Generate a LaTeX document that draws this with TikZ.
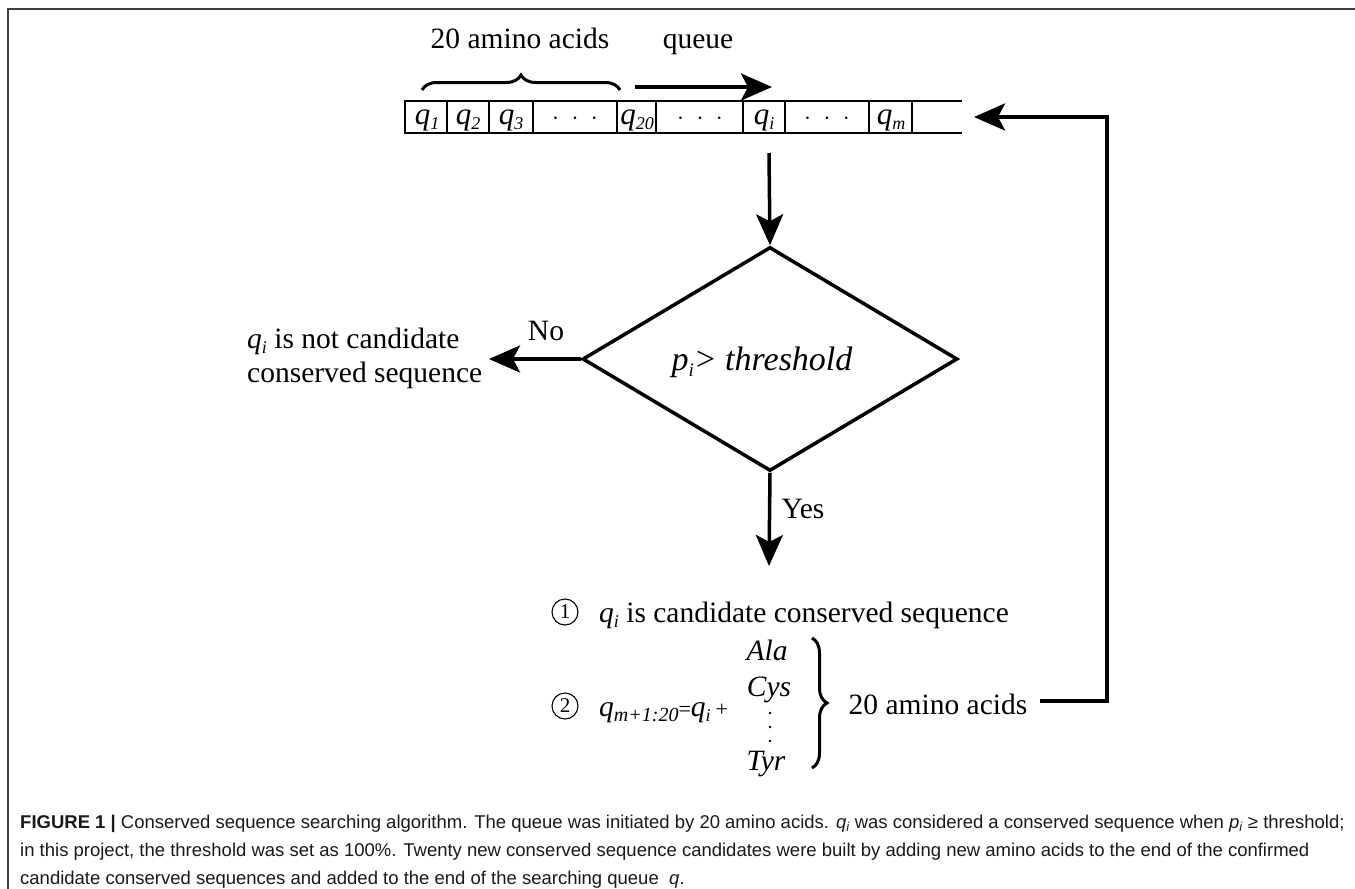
\documentclass[tikz,border=0pt]{standalone}
\usepackage{fontspec}
\usepackage{graphicx}
\setmainfont{Liberation Serif}
\newfontfamily\capfont{Liberation Sans}
\usetikzlibrary{shapes.geometric,arrows.meta,decorations.pathreplacing}
\newcommand{\diagsize}{\fontsize{29.5}{34}\selectfont}
\newcommand{\qq}[1]{\textit{q}{\fontsize{18}{18}\selectfont\raisebox{-5pt}{\textit{#1}}}}
\begin{document}
\begin{tikzpicture}[x=1pt,y=-1pt,
  lbl/.style={inner sep=0pt, font=\diagsize, anchor=base},
  cellt/.style={inner sep=0pt, font=\fontsize{31}{34}\selectfont, anchor=base},
  numc/.style={draw, circle, line width=1.1pt, inner sep=0pt, minimum size=26pt, font=\fontsize{21}{21}\selectfont},
  bigarrow/.style={line width=3.5pt, -{Stealth[length=31pt,width=27pt,inset=7pt]}},
  strip/.style={line width=2.8pt},
  dec/.style={draw, line width=3.5pt, diamond, inner sep=0pt, minimum width=375pt, minimum height=224pt},
  bracestyle/.style={line width=3pt, decorate, decoration={brace, amplitude=15pt}},
  frame/.style={line width=1.5pt, black!75},
  captxt/.style={inner sep=0pt, anchor=base west, font=\capfont\fontsize{18.5}{20}\selectfont, text=black!90}
]
\useasboundingbox (0,0) rectangle (1355,889);
\draw[frame] (8,889) -- (8,9) -- (1355,9);

% top labels
\node[lbl] (aa) at (520,48) {20 amino acids};
\node[lbl] (qu) at (698,48) {queue};
\coordinate (br1) at (422,90);
\coordinate (br2) at (620,90);
\draw[bracestyle] (br1) -- (br2);
\coordinate (qa1) at (635,87);
\coordinate (qa2) at (772,87);
\draw[bigarrow] (qa1) -- (qa2);

% queue strip
\coordinate (sl) at (405,101);
\coordinate (sr) at (962,101);
\coordinate (bl) at (405,133);
\coordinate (brr) at (962,133);
\draw[strip] (sr) -- (sl) -- (bl) -- (brr);
\foreach \x in {447,489,533,617,656,743,785,869,912}{
  \draw[strip] (\x,101) -- (\x,133);
}
\node[cellt] (c1) at (427,124) {\qq{1}};
\node[cellt] (c2) at (468,124) {\qq{2}};
\node[cellt] (c3) at (511,124) {\qq{3}};
\node[cellt] (c4) at (575,124) {$\cdot\;\cdot\;\cdot$};
\node[cellt] (c5) at (637,124) {\qq{20}};
\node[cellt] (c6) at (700,124) {$\cdot\;\cdot\;\cdot$};
\node[cellt] (c7) at (764,124) {\qq{i}};
\node[cellt] (c8) at (827,124) {$\cdot\;\cdot\;\cdot$};
\node[cellt] (c9) at (891,124) {\qq{m}};

% decision
\node[dec] (dia) at (770,359) {};
\node[lbl, font=\fontsize{34}{34}\selectfont] (cond) at (762,370) {\textit{p}{\fontsize{19}{19}\selectfont\raisebox{-6pt}{\textit{i}}}\textit{> threshold}};
\coordinate (sb) at (769,153);
\draw[bigarrow] (sb) -- (dia.north);

\node[lbl, anchor=base west, align=left] (notc) at (247,382) {\qq{i} is not candidate\\conserved sequence};
\coordinate (notin) at (489,359);
\draw[bigarrow] (dia.west) -- (notin);
\node[lbl] (no) at (546,340) {No};

\coordinate (yesend) at (769,566);
\draw[bigarrow] (dia.south) -- (yesend);
\node[lbl] (yes) at (803,518) {Yes};

% results
\node[numc] (n1) at (565,612) {1};
\node[numc] (n2) at (565,706) {2};
\node[lbl, anchor=base west] (s1) at (599,622) {\qq{i} is candidate conserved sequence};
\node[lbl, anchor=base west] (s2) at (599,716) {\textit{q}{\fontsize{20}{20}\selectfont\raisebox{-5pt}{\textit{m+1:20}}}{\fontsize{22}{22}\selectfont =}\qq{i}\,{\fontsize{22}{22}\selectfont +}};
\node[lbl] (ala) at (767,660) {\textit{Ala}};
\node[lbl] (cys) at (769,696) {\textit{Cys}};
\foreach \y in {713,727,741}{ \fill (770,\y) circle (1.4pt); }
\node[lbl] (tyr) at (766,770) {\textit{Tyr}};
\coordinate (rb1) at (812,638);
\coordinate (rb2) at (812,768);
\draw[bracestyle] (rb1) -- (rb2);
\node[lbl] (aa2) at (938,714) {20 amino acids};

% return loop
\coordinate (ls) at (1040,701);
\coordinate (lc) at (1107,701);
\coordinate (ret) at (974,117);
\draw[bigarrow] (ls) -- (lc) |- (ret);

% caption
\node[captxt] (cap1) at (20,828) {\textbf{FIGURE 1 |} Conserved sequence searching algorithm. The queue was initiated by 20 amino acids. \textit{q\textsubscript{i}} was considered a conserved sequence when \textit{p\textsubscript{i}} ≥ threshold;};
\node[captxt] (cap2) at (20,856) {in this project, the threshold was set as 100\%. Twenty new conserved sequence candidates were built by adding new amino acids to the end of the confirmed};
\node[captxt] (cap3) at (20,884) {candidate conserved sequences and added to the end of the searching queue \ \textit{q}.};
\end{tikzpicture}
\end{document}
